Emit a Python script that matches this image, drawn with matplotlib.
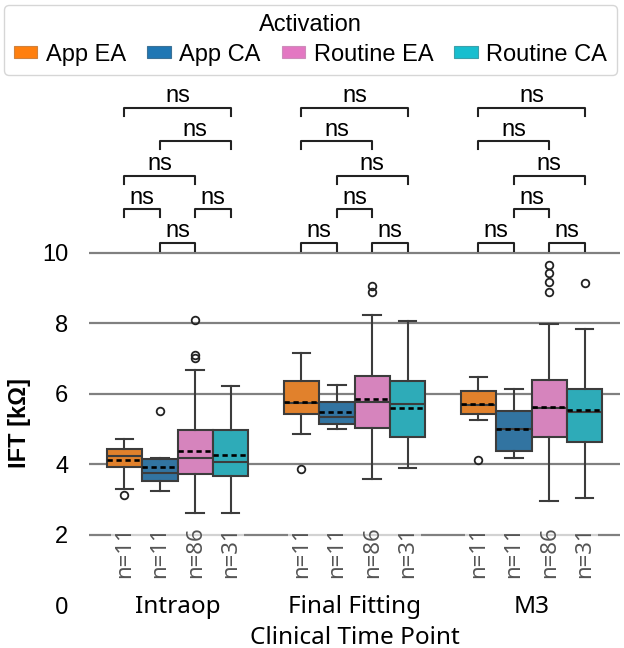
import colorsys
import matplotlib
matplotlib.use("Agg")
import matplotlib.pyplot as plt
import matplotlib.colors as mcolors
from matplotlib.patches import Patch, Rectangle

plt.rcParams['font.family'] = ['Liberation Sans', 'DejaVu Sans']

# ---------------- data ----------------
groups = ["Intraop", "Final Fitting", "M3"]
hues = ["App EA", "App CA", "Routine EA", "Routine CA"]
n_counts = [11, 11, 86, 31]
yticks = [0, 2, 4, 6, 8, 10]

# rows: groups, cols: hues
whislo = [[3.28, 3.24, 2.60, 2.60],
          [4.85, 4.98, 3.57, 3.89],
          [5.25, 4.16, 2.96, 3.05]]
q1 = [[3.92, 3.52, 3.72, 3.67],
      [5.43, 5.13, 5.01, 4.78],
      [5.42, 4.37, 4.77, 4.62]]
med = [[4.23, 3.75, 4.17, 4.05],
       [5.72, 5.34, 5.75, 5.69],
       [5.67, 4.98, 5.58, 5.48]]
mean = [[4.11, 3.91, 4.38, 4.25],
        [5.76, 5.48, 5.84, 5.58],
        [5.69, 5.00, 5.61, 5.52]]
q3 = [[4.43, 4.13, 4.96, 4.96],
      [6.37, 5.77, 6.50, 6.36],
      [6.06, 5.51, 6.38, 6.12]]
whishi = [[4.70, 4.18, 6.67, 6.22],
          [7.14, 6.24, 8.23, 8.07],
          [6.46, 6.14, 7.96, 7.84]]
fliers = [[[3.12], [5.51], [7.0, 7.08, 8.09], []],
          [[3.87], [], [8.88, 9.06], []],
          [[4.12], [], [8.89, 9.17, 9.41, 9.65], [9.14]]]

sig_label = "ns"
pairs_intraop = [[(1, 2)], [(0, 1), (2, 3)], [(0, 2)], [(1, 3)], [(0, 3)]]
pairs_other = [[(0, 1), (2, 3)], [(1, 2)], [(1, 3)], [(0, 2)], [(0, 3)]]
bracket_pairs = [pairs_intraop, pairs_other, pairs_other]

base_colors = ['#ff7f0e', '#1f77b4', '#e377c2', '#17becf']


def desat(c, prop=0.75):
    r, g, b = mcolors.to_rgb(c)
    h, l, s = colorsys.rgb_to_hls(r, g, b)
    return colorsys.hls_to_rgb(h, l, s * prop)


box_colors = [desat(c) for c in base_colors]
edge = '#3c3c3c'

# ---------------- figure ----------------
fig = plt.figure(figsize=(6.24, 6.48), dpi=100)
ax = fig.add_axes([89 / 624, 1 - 605 / 648, (620 - 89) / 624, (605 - 242) / 648])

width = 0.2
offsets = [-0.3, -0.1, 0.1, 0.3]

for gi in range(len(groups)):
    for hi in range(len(hues)):
        st = dict(whislo=whislo[gi][hi], q1=q1[gi][hi], med=med[gi][hi],
                  mean=mean[gi][hi], q3=q3[gi][hi], whishi=whishi[gi][hi],
                  fliers=fliers[gi][hi])
        ax.bxp([st], positions=[gi + offsets[hi]], widths=width,
               patch_artist=True, showmeans=True, meanline=True,
               boxprops=dict(facecolor=box_colors[hi], edgecolor=edge, linewidth=1.5),
               medianprops=dict(color=edge, linewidth=1.5),
               whiskerprops=dict(color=edge, linewidth=1.5),
               capprops=dict(color=edge, linewidth=1.5),
               meanprops=dict(color='black', linestyle=(0, (2.0, 1.4)), linewidth=1.9),
               flierprops=dict(marker='o', markerfacecolor='none',
                               markeredgecolor='#222222', markersize=5.5,
                               markeredgewidth=1.3),
               manage_ticks=False, zorder=3)

ax.set_xlim(-0.5, 2.5)
ax.set_ylim(0, 10.3)
ax.set_yticks(yticks)
ax.set_yticklabels([str(t) for t in yticks], fontsize=17)
ax.set_xticks(range(len(groups)))
ax.set_xticklabels(groups, fontsize=17.5, family=['Noto Sans', 'DejaVu Sans'])
ytl = ax.get_yticklabels()
ytl[0].set_fontfamily(['Noto Sans', 'DejaVu Sans'])
ax.tick_params(axis='y', length=0, pad=15)
ax.tick_params(axis='x', length=0, pad=-7)
for s in ax.spines.values():
    s.set_visible(False)
ax.set_axisbelow(True)
ax.yaxis.grid(True, color='#808080', linewidth=1.6)
ax.xaxis.grid(False)
ax.get_ygridlines()[0].set_visible(False)

ax.set_ylabel("IFT [kΩ]", fontsize=17, fontweight='bold', labelpad=8)
ax.set_xlabel("Clinical Time Point", fontsize=17.5,
              family=['Noto Sans', 'DejaVu Sans'], labelpad=4.5)

# n labels with light box
for gi in range(len(groups)):
    ax.add_patch(Rectangle((gi - 0.375, 1.8), 0.75, 0.4, facecolor='white',
                           alpha=0.65, edgecolor='none', zorder=1))
    for hi in range(len(hues)):
        ax.text(gi + offsets[hi], 1.5, f"n={n_counts[hi]}", rotation=90,
                ha='center', va='center', fontsize=16, color='#555555',
                family=['Noto Sans', 'DejaVu Sans'], zorder=4)

# significance brackets
level_y = [10.27, 11.23, 12.17, 13.16, 14.10]
tick_h = 0.23
for gi in range(len(groups)):
    for li, level in enumerate(bracket_pairs[gi]):
        y = level_y[li]
        for (a, b) in level:
            x1 = gi + offsets[a]
            x2 = gi + offsets[b]
            ax.plot([x1, x1, x2, x2], [y - tick_h, y, y, y - tick_h],
                    color='#222222', linewidth=1.5, clip_on=False, zorder=5)
            ax.text((x1 + x2) / 2, y + 0.02, sig_label, ha='center', va='bottom',
                    fontsize=17, clip_on=False)

handles = [Patch(facecolor=c, edgecolor=mcolors.to_hex(desat(c, 0.6)), linewidth=0.8)
           for c in base_colors]
leg = fig.legend(handles, hues, title="Activation", loc='upper center',
                 bbox_to_anchor=(0.4976, 1 - 5 / 648), ncol=4, fontsize=17,
                 title_fontsize=17, handlelength=1.0, handleheight=0.45,
                 handletextpad=0.35, columnspacing=0.9, borderaxespad=0,
                 frameon=True, borderpad=0.4, labelspacing=0.3)
leg.get_frame().set_edgecolor('#cccccc')

fig.savefig("out.png", dpi=100)
